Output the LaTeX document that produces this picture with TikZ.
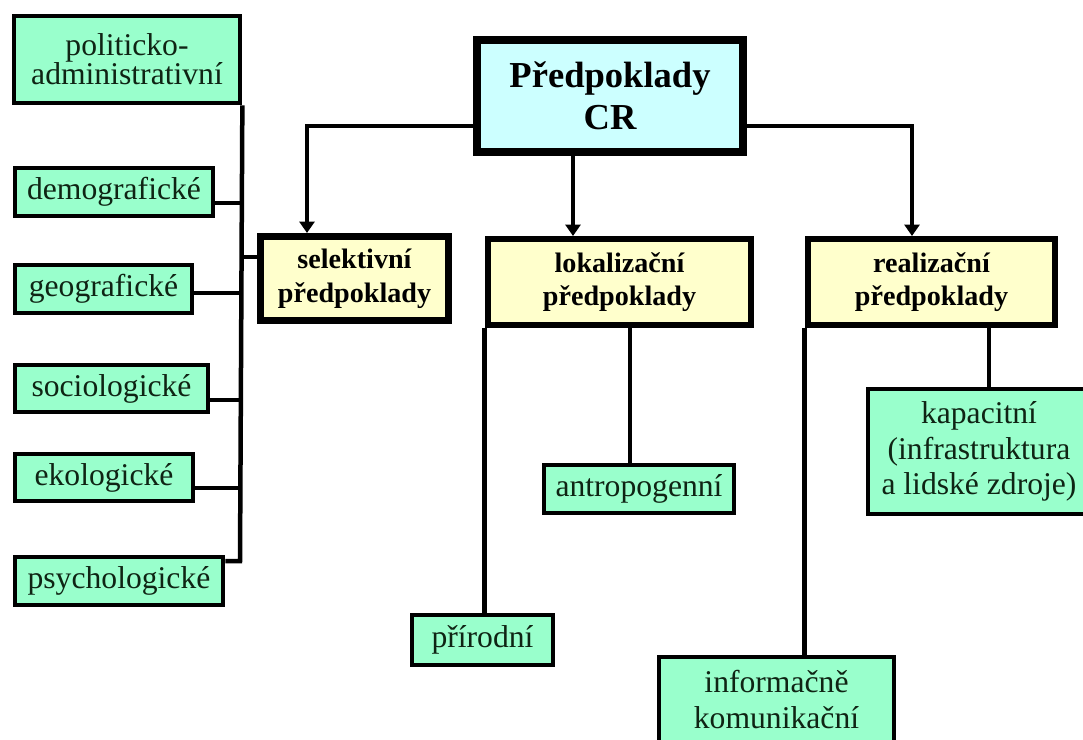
\documentclass[tikz,border=0pt]{standalone}
\usepackage{fontspec}
\setmainfont{Liberation Serif}
\usepackage{tikz}
\usetikzlibrary{arrows.meta}
\definecolor{mint}{HTML}{99FFCC}
\definecolor{cream}{HTML}{FFFFCC}
\definecolor{ice}{HTML}{CCFFFF}
\definecolor{ink}{HTML}{0F2414}

\begin{document}
\begin{tikzpicture}[x=0.025cm, y=-0.025cm,
    leaf/.style={shape=rectangle, draw=black, line width=3.3pt, fill=mint, inner sep=0pt, align=center, text=ink, font=\fontsize{22.5}{25}\selectfont},
    group/.style={shape=rectangle, draw=black, line width=4.9pt, fill=cream, inner sep=0pt, align=center, font=\bfseries\fontsize{20}{24}\selectfont},
    wire/.style={line width=3.2pt},
    arr/.style={wire, -{Triangle[length=8pt, width=10.5pt]}}]
    \path[use as bounding box, fill=white] (0,0) rectangle (1083,740);
    % Paths, nodes and wires:
    \node[shape=rectangle, draw=black, line width=6.2pt, fill=ice, inner sep=0pt, align=center, minimum width=6.65cm, minimum height=2.8cm, font=\bfseries\fontsize{26}{30}\selectfont](root) at (610, 96){Předpoklady\\CR};
    \node[group, minimum width=4.7cm, minimum height=2.1cm](sel) at (354.5, 278.5){selektivní\\předpoklady};
    \node[group, minimum width=6.575cm, minimum height=2.15cm](lok) at (619.5, 282){lokalizační\\předpoklady};
    \node[group, minimum width=6.175cm, minimum height=2.15cm](rea) at (931.5, 282){realizační\\předpoklady};
    % left column
    \node[leaf, minimum width=5.65cm, minimum height=2.175cm, font=\fontsize{22.5}{20.5}\selectfont](pol) at (127, 59.5){politicko-\\administrativní};
    \node[leaf, minimum width=4.95cm, minimum height=1.2cm](dem) at (114, 192){demografické};
    \node[leaf, minimum width=4.425cm, minimum height=1.2cm](geo) at (103.5, 289){geografické};
    \node[leaf, minimum width=4.825cm, minimum height=1.175cm](soc) at (111.5, 388.5){sociologické};
    \node[leaf, minimum width=4.45cm, minimum height=1.175cm](eko) at (104, 477.5){ekologické};
    \node[leaf, minimum width=5.2cm, minimum height=1.2cm](psy) at (119, 581){psychologické};
    % lower boxes
    \node[leaf, minimum width=3.525cm, minimum height=1.25cm](pri) at (482.5, 640){přírodní};
    \node[leaf, minimum width=4.75cm, minimum height=1.2cm](ant) at (639, 489){antropogenní};
    \node[leaf, minimum width=5.875cm, minimum height=2.125cm](inf) at (776.5, 699.5){informačně\\komunikační};
    \node[leaf, minimum width=5.55cm, minimum height=3.125cm](kap) at (979, 451.5){kapacitní\\(infrastruktura\\a lidské zdroje)};

    \coordinate (busEnd) at (240, 561);
    \coordinate (b1) at (240, 203);
    \coordinate (b2) at (240, 293);
    \coordinate (b3) at (240, 400);
    \coordinate (b4) at (240, 488);
    \coordinate (b5) at (240, 257);
    \coordinate (aSel) at (307, 233);
    \coordinate (aLok) at (573, 236);
    \coordinate (aRea) at (912, 236);
    \coordinate (dAnt) at (630, 465);
    \coordinate (dKap) at (989, 389);

    \draw[wire] (pol.south east) -- (busEnd) -- (busEnd -| psy.east);
    \draw[wire] (dem.east |- b1) -- (b1);
    \draw[wire] (geo.east |- b2) -- (b2);
    \draw[wire] (soc.east |- b3) -- (b3);
    \draw[wire] (eko.east |- b4) -- (b4);
    \draw[wire] (b5) -- (sel.west |- b5);

    \draw[arr] ([yshift=-0.75cm]root.west) -| (aSel);
    \draw[arr] (root.south -| aLok) -- (aLok);
    \draw[arr] ([yshift=-0.75cm]root.east) -| (aRea);

    \draw[wire] (lok.south west) -- (lok.south west |- pri.north);
    \draw[wire] (lok.south -| dAnt) -- (dAnt);
    \draw[wire] (rea.south west) -- (rea.south west |- inf.north);
    \draw[wire] (rea.south -| dKap) -- (dKap);
\end{tikzpicture}
\end{document}
